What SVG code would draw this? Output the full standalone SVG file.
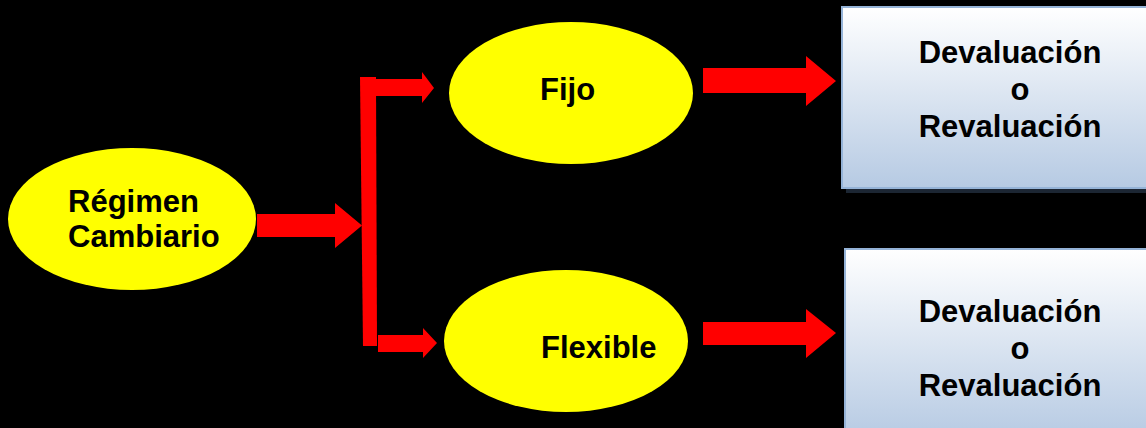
<svg xmlns="http://www.w3.org/2000/svg" width="1146" height="428" viewBox="0 0 1146 428">
<defs>
<linearGradient id="boxg" x1="0" y1="0" x2="0" y2="1">
<stop offset="0" stop-color="#ffffff"/>
<stop offset="1" stop-color="#b6cae3"/>
</linearGradient>
<style>
.ell{fill:#ffff00}
.arr{fill:#ff0000}
.t{font-family:"Liberation Sans",Arial,sans-serif;font-weight:bold;font-size:31px;fill:#000}
.box{fill:url(#boxg);stroke:#95b3d7;stroke-width:2}
.sh{fill:#1c2633}
</style>
</defs>
<rect width="1146" height="428" fill="#000"/>
<g id="connectors">
<polygon class="arr" points="257,214 335,214 335,203 362,225.5 335,248 335,237 257,237"/>
<polygon class="arr" points="360,77 376,77 377,346 363,346"/>
<polygon class="arr" points="376,79 422,79 422,72 434,88 422,103 422,96 376,96"/>
<polygon class="arr" points="378,335 423,335 423,328 437,343 423,358 423,352 378,352"/>
<polygon class="arr" points="703,68 806,68 806,56 836,81 806,106 806,93 703,93"/>
<polygon class="arr" points="703,322 806,322 806,309 836,333 806,358 806,345 703,345"/>
</g>
<g id="regimen">
<ellipse class="ell" cx="132" cy="219" rx="124" ry="71"/>
<text class="t" x="68" y="212">Régimen</text>
<text class="t" x="68" y="247">Cambiario</text>
</g>
<g id="fijo">
<ellipse class="ell" cx="571" cy="93" rx="122" ry="71"/>
<text class="t" x="540" y="100">Fijo</text>
</g>
<g id="flexible">
<ellipse class="ell" cx="566" cy="341" rx="122" ry="71"/>
<text class="t" x="541" y="358">Flexible</text>
</g>
<g id="box1">
<rect class="sh" x="846" y="11" width="310" height="182"/>
<rect class="box" x="842" y="7" width="310" height="181"/>
<text class="t" x="1010" y="63" text-anchor="middle">Devaluación</text>
<text class="t" x="1020" y="100" text-anchor="middle">o</text>
<text class="t" x="1010" y="137" text-anchor="middle">Revaluación</text>
</g>
<g id="box2">
<rect class="sh" x="849" y="253" width="310" height="182"/>
<rect class="box" x="845" y="249" width="310" height="190"/>
<text class="t" x="1010" y="322" text-anchor="middle">Devaluación</text>
<text class="t" x="1020" y="359" text-anchor="middle">o</text>
<text class="t" x="1010" y="396" text-anchor="middle">Revaluación</text>
</g>
</svg>
